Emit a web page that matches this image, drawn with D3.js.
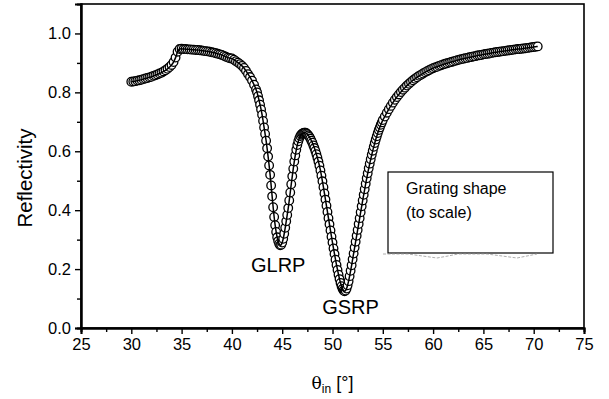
<!DOCTYPE html>
<html><head><meta charset="utf-8">
<script src="https://cdn.jsdelivr.net/npm/d3@7"></script>
<style>
html,body{margin:0;padding:0;background:#fff;}
text{font-family:"Liberation Sans",Arial,Helvetica,sans-serif;fill:#000;}
</style></head>
<body>
<svg id="chart" width="609" height="399"></svg>
<script>
// ---- data ----
const theta = [
30.0,30.2,30.4,30.6,30.8,31.0,31.2,31.4,31.6,31.8,32.0,32.2,32.4,32.6,32.8,33.0,33.2,33.4,33.6,33.8,
34.0,34.2,34.4,34.6,34.8,35.0,35.2,35.4,35.6,35.8,36.0,36.2,36.4,36.6,36.8,37.0,37.2,37.4,37.6,37.8,
38.0,38.2,38.4,38.6,38.8,39.0,39.2,39.4,39.6,39.8,40.0,40.2,40.4,40.6,40.8,41.0,41.2,41.4,41.6,41.8,
42.0,42.2,42.4,
42.5,42.6,42.7,42.8,42.9,43.0,43.1,43.2,43.3,43.4,43.5,43.6,43.7,43.8,43.9,44.0,44.1,44.2,44.3,44.4,
44.5,44.6,44.7,44.8,44.9,45.0,45.1,45.2,45.3,45.4,45.5,45.6,45.7,45.8,45.9,46.0,46.1,46.2,46.3,46.4,
46.5,46.6,46.7,46.8,46.9,47.0,47.1,47.2,47.3,47.4,47.5,47.6,47.7,47.8,47.9,48.0,48.1,48.2,48.3,48.4,
48.5,48.6,48.7,48.8,48.9,49.0,49.1,49.2,49.3,49.4,49.5,49.6,49.7,49.8,49.9,50.0,50.1,50.2,50.3,50.4,
50.5,50.6,50.7,50.8,50.9,51.0,51.1,51.2,51.3,51.4,51.5,51.6,51.7,51.8,51.9,52.0,52.1,52.2,52.3,52.4,
52.5,52.6,52.7,52.8,52.9,53.0,53.1,53.2,53.3,53.4,53.5,53.6,53.7,53.8,53.9,54.0,54.1,54.2,54.3,54.4,
54.5,54.6,54.7,54.8,54.9,55.0,
55.2,55.4,55.6,55.8,56.0,56.2,56.4,56.6,56.8,57.0,57.2,57.4,57.6,57.8,58.0,58.2,58.4,58.6,58.8,59.0,
59.2,59.4,59.6,59.8,60.0,60.2,60.4,60.6,60.8,61.0,61.2,61.4,61.6,61.8,62.0,62.2,62.4,62.6,62.8,63.0,
63.2,63.4,63.6,63.8,64.0,64.2,64.4,64.6,64.8,65.0,65.2,65.4,65.6,65.8,66.0,66.2,66.4,66.6,66.8,67.0,
67.2,67.4,67.6,67.8,68.0,68.2,68.4,68.6,68.8,69.0,69.2,69.4,69.6,69.8,70.0,70.2,70.4
];
const reflectivity = [
0.836,0.837,0.838,0.840,0.841,0.843,0.845,0.847,0.849,0.851,0.853,0.856,0.858,0.861,0.864,0.867,0.871,0.875,0.880,0.886,
0.893,0.903,0.918,0.938,0.947,0.948,0.947,0.947,0.946,0.946,0.945,0.945,0.944,0.944,0.943,0.942,0.941,0.940,0.939,0.938,
0.936,0.935,0.933,0.931,0.929,0.927,0.924,0.921,0.918,0.916,0.915,0.911,0.906,0.901,0.896,0.890,0.883,0.873,0.862,0.852,
0.840,0.826,0.810,
0.800,0.787,0.773,0.758,0.742,0.724,0.703,0.681,0.659,0.636,0.610,0.582,0.552,0.520,0.484,0.447,0.410,0.377,0.349,0.326,
0.308,0.295,0.286,0.281,0.283,0.290,0.303,0.320,0.340,0.362,0.384,0.407,0.433,0.460,0.488,0.515,0.541,0.565,0.586,0.605,
0.621,0.634,0.644,0.652,0.657,0.660,0.662,0.663,0.663,0.661,0.658,0.654,0.649,0.643,0.636,0.629,0.620,0.611,0.601,0.590,
0.578,0.565,0.551,0.535,0.517,0.498,0.478,0.457,0.436,0.415,0.394,0.373,0.352,0.331,0.310,0.290,0.270,0.251,0.232,0.214,
0.197,0.181,0.166,0.153,0.142,0.133,0.127,0.125,0.127,0.134,0.145,0.159,0.176,0.194,0.213,0.233,0.253,0.273,0.293,0.313,
0.333,0.353,0.373,0.393,0.413,0.433,0.452,0.471,0.490,0.508,0.525,0.542,0.558,0.573,0.588,0.602,0.615,0.628,0.640,0.651,
0.662,0.672,0.681,0.690,0.698,0.706,
0.718,0.731,0.743,0.754,0.765,0.775,0.784,0.793,0.801,0.809,0.816,0.823,0.829,0.835,0.841,0.846,0.851,0.856,0.860,0.864,
0.868,0.872,0.875,0.879,0.882,0.885,0.887,0.890,0.892,0.895,0.897,0.899,0.901,0.903,0.905,0.907,0.909,0.911,0.913,0.914,
0.916,0.917,0.919,0.920,0.922,0.923,0.925,0.926,0.927,0.929,0.930,0.931,0.932,0.934,0.935,0.936,0.937,0.938,0.939,0.940,
0.941,0.942,0.943,0.944,0.945,0.946,0.947,0.947,0.948,0.949,0.950,0.951,0.952,0.953,0.954,0.955,0.956
];
const xTicks = [25,30,35,40,45,50,55,60,65,70,75];
const yTicks = [0.0,0.2,0.4,0.6,0.8,1.0];
const xMinorTicks = [27.5,32.5,37.5,42.5,47.5,52.5,57.5,62.5,67.5,72.5];
const yMinorTicks = [0.1,0.3,0.5,0.7,0.9];
const annotations = [
  {label:"GLRP", x:44.8, y:0.28},
  {label:"GSRP", x:51.2, y:0.125}
];
const insetLines = ["Grating shape","(to scale)"];

// ---- layout ----
const svg = d3.select("#chart");
const m = {left:81, right:25, top:4, bottom:71};
const W = 609, H = 399;
const x = d3.scaleLinear().domain([25,75]).range([m.left, W - m.right]);
const y = d3.scaleLinear().domain([0,1.1]).range([H - m.bottom, m.top]);

// frame
svg.append("rect")
  .attr("x", x(25)).attr("y", y(1.1))
  .attr("width", x(75)-x(25)).attr("height", y(0)-y(1.1))
  .attr("fill","none").attr("stroke","#000").attr("stroke-width",1.6);

// axes
const fmt = d3.format(".1f");
const gx = svg.append("g").attr("transform",`translate(0,${y(0)})`)
  .call(d3.axisBottom(x).tickValues(xTicks).tickSize(6).tickPadding(4));
const gxm = svg.append("g").attr("transform",`translate(0,${y(0)})`)
  .call(d3.axisBottom(x).tickValues(xMinorTicks).tickSize(4).tickFormat(""));
const gy = svg.append("g").attr("transform",`translate(${x(25)},0)`)
  .call(d3.axisLeft(y).tickValues(yTicks).tickSize(6).tickPadding(4).tickFormat(fmt));
const gym = svg.append("g").attr("transform",`translate(${x(25)},0)`)
  .call(d3.axisLeft(y).tickValues(yMinorTicks).tickSize(4).tickFormat(""));
[gx,gxm,gy,gym].forEach(g=>{
  g.select(".domain").attr("stroke","#000").attr("stroke-width",2);
  g.selectAll(".tick line").attr("stroke","#000").attr("stroke-width",1.4);
  g.selectAll(".tick text").attr("font-size",16.5).attr("fill","#000")
    .attr("font-family","'Liberation Sans',Arial,sans-serif");
});

// axis titles
svg.append("text")
  .attr("transform",`translate(32,178) rotate(-90)`)
  .attr("text-anchor","middle").attr("font-size",20.5).text("Reflectivity");
const xt = svg.append("text")
  .attr("x",(x(25)+x(75))/2).attr("y",389)
  .attr("text-anchor","middle").attr("font-size",18);
xt.append("tspan").attr("font-family","'DejaVu Serif',serif").attr("font-size",17).text("θ");
xt.append("tspan").attr("font-size",12).attr("dy",4).text("in");
xt.append("tspan").attr("dy",-4).text(" [°]");

// data
const pts = theta.map((t,i)=>[t, reflectivity[i]]);
svg.append("g").selectAll("circle").data(pts).join("circle")
  .attr("cx",d=>x(d[0])).attr("cy",d=>y(d[1])).attr("r",4.3)
  .attr("fill","#fff").attr("stroke","#000").attr("stroke-width",1.3);
svg.append("path").datum(pts)
  .attr("d", d3.line().x(d=>x(d[0])).y(d=>y(d[1])).curve(d3.curveMonotoneX))
  .attr("fill","none").attr("stroke","#000").attr("stroke-width",1.5);

// annotations
svg.append("g").selectAll("text").data(annotations).join("text")
  .attr("x",(d,i)=>x(d.x)+(i===1?6:-2)).attr("y",(d,i)=>y(d.y)+(i===1?23:26))
  .attr("text-anchor","middle").attr("font-size",20).text(d=>d.label);

// inset box
const bx = 388, by = 172, bw = 165, bh = 81;
svg.append("rect").attr("x",bx).attr("y",by).attr("width",bw).attr("height",bh)
  .attr("fill","#fff").attr("stroke","#000").attr("stroke-width",1.2);
svg.append("g").selectAll("text").data(insetLines).join("text")
  .attr("x",bx+18).attr("y",(d,i)=>by+22+i*24).attr("font-size",16).text(d=>d);
// grating profile sketch under the box
const grating = [[-5,0],[20,0],[49,4],[60,2],[70,0],[99,0],[129,4],[149,0]];
svg.append("path")
  .attr("d", d3.line()(grating.map(p=>[bx+p[0], by+bh+1+p[1]])))
  .attr("fill","none").attr("stroke","#999").attr("stroke-width",0.8)
  .attr("stroke-dasharray","3,1.5");
</script>
</body></html>
